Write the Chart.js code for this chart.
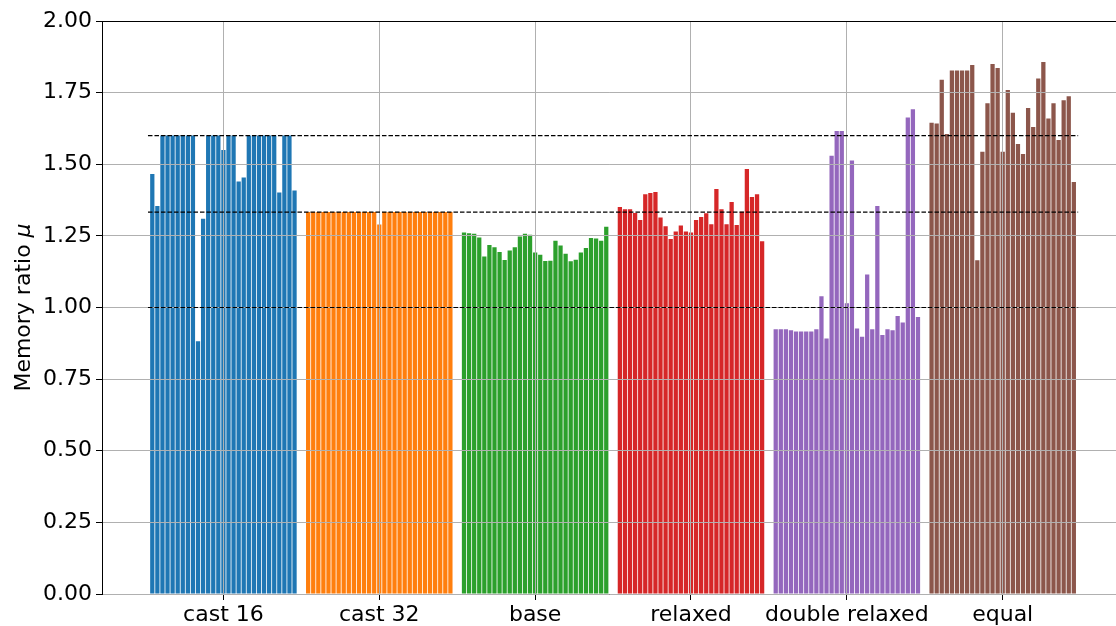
<!DOCTYPE html>
<html>
<head>
<meta charset="utf-8">
<script src="https://cdn.jsdelivr.net/npm/chart.js@4/dist/chart.umd.min.js"></script>
<style>
  html, body { margin: 0; padding: 0; background: #fff; }
  canvas { display: block; }
</style>
</head>
<body>
<canvas id="myChart" width="1116" height="626" style="width:1116px;height:626px"></canvas>
<script>
// group names shown under each block of bars
const groupNames = ['cast 16', 'cast 32', 'base', 'relaxed', 'double relaxed', 'equal'];

// memory ratio per run (29 runs per group)
const cast16 = [1.466, 1.354, 1.6, 1.6, 1.6, 1.6, 1.6, 1.6, 1.6, 0.882, 1.310, 1.6, 1.6, 1.6, 1.550,
    1.6, 1.6, 1.440, 1.454, 1.6, 1.6, 1.6, 1.6, 1.6, 1.6, 1.401, 1.6, 1.6, 1.408];
const cast32 = [1.333, 1.333, 1.333, 1.333, 1.333, 1.333, 1.333, 1.333, 1.333, 1.333, 1.333, 1.333, 1.333, 1.333, 1.290,
    1.333, 1.333, 1.333, 1.333, 1.333, 1.333, 1.333, 1.333, 1.333, 1.333, 1.333, 1.333, 1.333, 1.333];
const base = [1.262, 1.259, 1.257, 1.244, 1.178, 1.218, 1.210, 1.194, 1.166, 1.199, 1.210, 1.248, 1.257, 1.254, 1.192,
    1.184, 1.162, 1.163, 1.233, 1.216, 1.188, 1.161, 1.167, 1.192, 1.208, 1.243, 1.241, 1.233, 1.282];
const relaxed = [1.351, 1.343, 1.343, 1.330, 1.305, 1.395, 1.400, 1.403, 1.314, 1.284, 1.239, 1.265, 1.286, 1.265, 1.262,
    1.305, 1.316, 1.329, 1.291, 1.414, 1.343, 1.291, 1.368, 1.288, 1.334, 1.483, 1.386, 1.395, 1.231];
const doubleRelaxed = [0.924, 0.924, 0.924, 0.921, 0.916, 0.916, 0.916, 0.916, 0.924, 1.039, 0.892, 1.530, 1.616, 1.616, 1.015,
    1.513, 0.927, 0.898, 1.115, 0.924, 1.354, 0.904, 0.924, 0.921, 0.970, 0.948, 1.663, 1.692, 0.967];
const equal = [1.645, 1.642, 1.795, 1.606, 1.827, 1.827, 1.827, 1.827, 1.846, 1.165, 1.544, 1.713, 1.850, 1.836, 1.544,
    1.759, 1.680, 1.571, 1.536, 1.696, 1.630, 1.799, 1.857, 1.660, 1.713, 1.585, 1.723, 1.737, 1.438];

// dashed reference levels
const refLines = [1.0, 1.333, 1.6];

// y tick labels
const yTicks = [0, 0.25, 0.5, 0.75, 1.0, 1.25, 1.5, 1.75, 2.0];

const groups = [cast16, cast32, base, relaxed, doubleRelaxed, equal];
const colors = ['#1f77b4', '#ff7f0e', '#2ca02c', '#d62728', '#9467bd', '#8c564b'];

// spacing between group starts, in bar slots
const GAP = 30.68;
const N = 29;
const lastX = (groups.length - 1) * GAP + (N - 1);

const datasets = [];
groups.forEach((vals, k) => {
    datasets.push({
        type: 'bar',
        data: vals.map((v, j) => ({ x: k * GAP + j, y: v })),
        backgroundColor: colors[k],
        borderWidth: 0,
        grouped: false,
        barPercentage: 0.84,
        categoryPercentage: 1,
        order: 2
    });
});
refLines.forEach(y => {
    datasets.push({
        type: 'line',
        data: [{ x: -0.85, y: y }, { x: lastX + 0.85, y: y }],
        borderColor: '#000',
        borderWidth: 1.2,
        borderDash: [4.5, 2],
        pointRadius: 0,
        fill: false,
        order: 1
    });
});

// grid sits above the bars but under the dashed lines, like matplotlib
let gridDone = false;
const gridOnTop = {
    id: 'gridOnTop',
    beforeDatasetsDraw() { gridDone = false; },
    beforeDatasetDraw(chart, args) {
        if (!gridDone && args.meta.type === 'line') {
            chart.scales.x.drawGrid(chart.chartArea);
            chart.scales.y.drawGrid(chart.chartArea);
            gridDone = true;
        }
    },
    afterDraw(chart) {
        const { ctx, chartArea } = chart;
        ctx.save();
        // top spine
        ctx.strokeStyle = '#000';
        ctx.lineWidth = 1;
        ctx.beginPath();
        ctx.moveTo(chartArea.left, Math.round(chartArea.top) + 0.5);
        ctx.lineTo(chartArea.right, Math.round(chartArea.top) + 0.5);
        ctx.stroke();

        // y title with an italic mu
        const plain = 'Memory ratio ';
        const mu = 'μ';
        const fPlain = '22px "DejaVu Sans"';
        const fItalic = 'oblique 22px "DejaVu Sans"';
        ctx.font = fPlain;
        const w1 = ctx.measureText(plain).width;
        ctx.font = fItalic;
        const w2 = ctx.measureText(mu).width;
        const cy = (chartArea.top + chartArea.bottom) / 2;
        ctx.translate(24, cy);
        ctx.rotate(-Math.PI / 2);
        ctx.fillStyle = '#000';
        ctx.textBaseline = 'middle';
        ctx.textAlign = 'left';
        const start = -(w1 + w2) / 2;
        ctx.font = fPlain;
        ctx.fillText(plain, start, 0);
        ctx.font = fItalic;
        ctx.fillText(mu, start + w1, 0);
        ctx.restore();
    }
};

const font = { family: 'DejaVu Sans', size: 22 };

new Chart(document.getElementById('myChart'), {
    data: { datasets: datasets },
    options: {
        responsive: false,
        animation: false,
        devicePixelRatio: 1,
        layout: { padding: { top: 21, right: 0, left: 0, bottom: 0 } },
        plugins: { legend: { display: false }, tooltip: { enabled: false } },
        scales: {
            x: {
                type: 'linear',
                offset: false,
                min: -9.9,
                max: 189.7,
                grid: { color: '#b0b0b0', lineWidth: 1, offset: false, tickColor: '#000', tickLength: 6 },
                border: { color: '#000', width: 1 },
                afterBuildTicks: scale => {
                    scale.ticks = groupNames.map((n, k) => ({ value: k * GAP + (N - 1) / 2 }));
                },
                afterFit: scale => { scale.height = 32; },
                ticks: {
                    autoSkip: false,
                    maxRotation: 0,
                    color: '#000',
                    font: font,
                    padding: 2,
                    callback: (v, i) => groupNames[i]
                }
            },
            y: {
                min: 0,
                max: 2,
                grid: { color: '#b0b0b0', lineWidth: 1, tickColor: '#000', tickLength: 6 },
                border: { color: '#000', width: 1 },
                afterBuildTicks: scale => {
                    scale.ticks = yTicks.map(v => ({ value: v }));
                },
                afterFit: scale => { scale.width = 102; },
                ticks: {
                    color: '#000',
                    font: font,
                    padding: 4,
                    callback: v => v.toFixed(2)
                }
            }
        }
    },
    plugins: [gridOnTop]
});
</script>
</body>
</html>
